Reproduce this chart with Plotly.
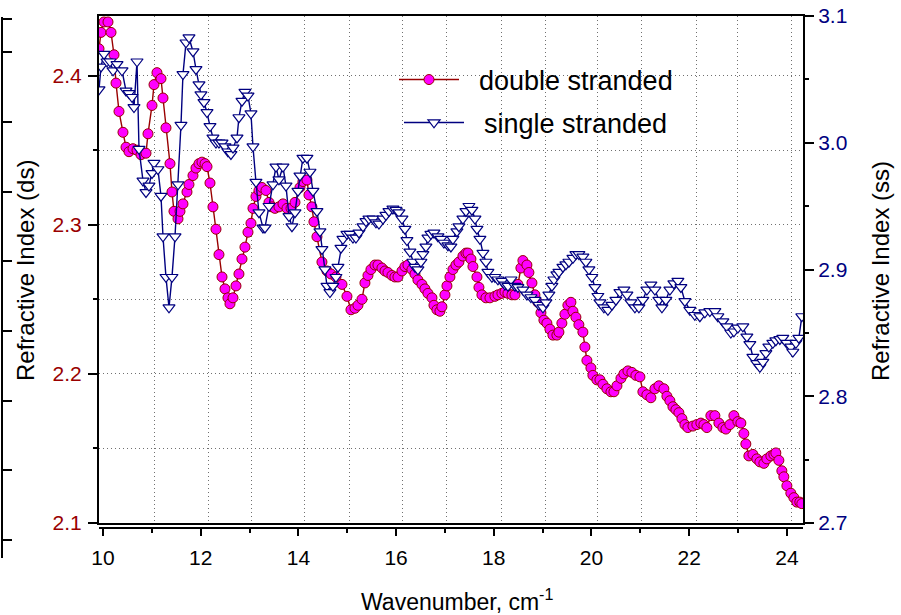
import plotly.graph_objects as go

# ---------------- data ----------------
ds_x = [9.918, 9.959, 10.020, 10.102, 10.164, 10.225, 10.266, 10.327, 10.409, 10.471,
        10.532, 10.614, 10.696, 10.778, 10.880, 10.921, 11.003, 11.044, 11.105, 11.187,
        11.228, 11.289, 11.371, 11.412, 11.453, 11.535, 11.576, 11.637, 11.719, 11.760,
        11.842, 11.903, 11.965, 12.026, 12.088, 12.129, 12.190, 12.251, 12.313, 12.374,
        12.436, 12.497, 12.558, 12.599, 12.661, 12.722, 12.783, 12.845, 12.906, 12.968,
        13.029, 13.070, 13.131, 13.193, 13.254, 13.336, 13.398, 13.459, 13.520, 13.602,
        13.684, 13.766, 13.848, 13.930, 14.032, 14.093, 14.175, 14.216, 14.277, 14.318,
        14.380, 14.482, 14.585, 14.667, 14.769, 14.892, 14.994, 15.076, 15.158, 15.219,
        15.301, 15.362, 15.424, 15.485, 15.567, 15.628, 15.710, 15.772, 15.833, 15.915,
        15.976, 16.038, 16.120, 16.181, 16.242, 16.324, 16.386, 16.447, 16.529, 16.590,
        16.652, 16.734, 16.775, 16.836, 16.897, 16.938, 17.000, 17.041, 17.102, 17.163,
        17.225, 17.286, 17.368, 17.430, 17.471, 17.532, 17.573, 17.655, 17.696, 17.757,
        17.839, 17.921, 18.023, 18.085, 18.166, 18.228, 18.289, 18.371, 18.433, 18.494,
        18.555, 18.596, 18.678, 18.719, 18.781, 18.842, 18.903, 18.965, 19.026, 19.087,
        19.149, 19.210, 19.292, 19.333, 19.394, 19.456, 19.517, 19.579, 19.620, 19.681,
        19.742, 19.824, 19.865, 19.906, 19.988, 20.029, 20.111, 20.173, 20.234, 20.316,
        20.398, 20.459, 20.521, 20.603, 20.664, 20.746, 20.827, 20.909, 20.991, 21.052,
        21.134, 21.216, 21.298, 21.380, 21.482, 21.544, 21.605, 21.667, 21.728, 21.789,
        21.851, 21.912, 21.973, 22.076, 22.157, 22.239, 22.301, 22.362, 22.444, 22.526,
        22.608, 22.690, 22.751, 22.833, 22.915, 22.997, 23.058, 23.119, 23.160, 23.222,
        23.304, 23.385, 23.447, 23.529, 23.590, 23.672, 23.733, 23.774, 23.836, 23.897,
        23.938, 24.000, 24.081, 24.143, 24.204, 24.265, 24.306]
ds_y = [2.418, 2.429, 2.436, 2.436, 2.429, 2.414, 2.395, 2.376, 2.362, 2.352,
        2.349, 2.351, 2.350, 2.347, 2.348, 2.361, 2.380, 2.394, 2.402, 2.398,
        2.385, 2.365, 2.341, 2.322, 2.309, 2.304, 2.309, 2.314, 2.322, 2.327,
        2.333, 2.338, 2.341, 2.342, 2.341, 2.339, 2.328, 2.312, 2.297, 2.280,
        2.265, 2.257, 2.251, 2.247, 2.251, 2.259, 2.267, 2.277, 2.285, 2.295,
        2.301, 2.311, 2.319, 2.323, 2.325, 2.323, 2.315, 2.312, 2.311, 2.312,
        2.314, 2.311, 2.311, 2.315, 2.325, 2.329, 2.330, 2.320, 2.312, 2.302,
        2.292, 2.275, 2.269, 2.267, 2.265, 2.260, 2.252, 2.243, 2.244, 2.246,
        2.250, 2.261, 2.266, 2.270, 2.273, 2.273, 2.271, 2.269, 2.268, 2.266,
        2.265, 2.265, 2.269, 2.272, 2.273, 2.270, 2.267, 2.263, 2.260, 2.257,
        2.254, 2.251, 2.246, 2.243, 2.242, 2.245, 2.253, 2.259, 2.265, 2.270,
        2.273, 2.275, 2.279, 2.281, 2.281, 2.277, 2.272, 2.265, 2.258, 2.253,
        2.251, 2.251, 2.252, 2.253, 2.254, 2.255, 2.254, 2.253, 2.253, 2.260,
        2.271, 2.276, 2.273, 2.268, 2.261, 2.253, 2.248, 2.241, 2.236, 2.234,
        2.230, 2.226, 2.226, 2.228, 2.234, 2.240, 2.246, 2.248, 2.242, 2.238,
        2.233, 2.228, 2.218, 2.209, 2.204, 2.199, 2.196, 2.196, 2.193, 2.190,
        2.188, 2.188, 2.192, 2.197, 2.200, 2.202, 2.201, 2.199, 2.198, 2.188,
        2.186, 2.184, 2.190, 2.192, 2.190, 2.185, 2.182, 2.178, 2.176, 2.174,
        2.170, 2.166, 2.164, 2.165, 2.166, 2.167, 2.166, 2.164, 2.172, 2.172,
        2.167, 2.164, 2.163, 2.166, 2.172, 2.168, 2.167, 2.160, 2.153, 2.145,
        2.146, 2.143, 2.141, 2.140, 2.143, 2.145, 2.146, 2.147, 2.142, 2.135,
        2.131, 2.125, 2.120, 2.117, 2.114, 2.114, 2.113]

ss_x = [9.918, 9.959, 10.020, 10.082, 10.143, 10.205, 10.287, 10.389, 10.471, 10.532,
        10.594, 10.634, 10.696, 10.737, 10.819, 10.880, 10.941, 11.003, 11.044, 11.125,
        11.187, 11.228, 11.289, 11.351, 11.412, 11.474, 11.535, 11.596, 11.637, 11.699,
        11.760, 11.842, 11.903, 11.965, 12.005, 12.067, 12.129, 12.190, 12.251, 12.313,
        12.374, 12.436, 12.497, 12.558, 12.619, 12.661, 12.743, 12.783, 12.845, 12.906,
        12.968, 13.029, 13.070, 13.131, 13.193, 13.275, 13.315, 13.398, 13.480, 13.541,
        13.602, 13.684, 13.746, 13.807, 13.868, 13.930, 13.991, 14.032, 14.093, 14.175,
        14.237, 14.298, 14.380, 14.441, 14.482, 14.543, 14.585, 14.646, 14.707, 14.769,
        14.810, 14.871, 14.912, 14.994, 15.055, 15.117, 15.178, 15.240, 15.322, 15.383,
        15.444, 15.526, 15.588, 15.649, 15.731, 15.792, 15.854, 15.935, 15.997, 16.058,
        16.120, 16.181, 16.222, 16.283, 16.345, 16.386, 16.447, 16.508, 16.549, 16.611,
        16.652, 16.713, 16.775, 16.857, 16.918, 16.979, 17.061, 17.122, 17.163, 17.245,
        17.286, 17.368, 17.430, 17.491, 17.552, 17.614, 17.655, 17.716, 17.778, 17.839,
        17.880, 17.962, 18.023, 18.085, 18.166, 18.228, 18.289, 18.351, 18.433, 18.494,
        18.596, 18.678, 18.760, 18.842, 18.924, 19.006, 19.067, 19.128, 19.190, 19.231,
        19.292, 19.333, 19.415, 19.476, 19.538, 19.620, 19.681, 19.742, 19.824, 19.885,
        19.947, 20.008, 20.070, 20.131, 20.173, 20.254, 20.336, 20.418, 20.500, 20.582,
        20.664, 20.725, 20.807, 20.889, 20.971, 21.052, 21.134, 21.216, 21.298, 21.380,
        21.442, 21.523, 21.605, 21.687, 21.769, 21.830, 21.912, 22.014, 22.116, 22.219,
        22.321, 22.423, 22.526, 22.587, 22.690, 22.771, 22.853, 22.915, 22.997, 23.099,
        23.181, 23.242, 23.304, 23.385, 23.447, 23.508, 23.570, 23.631, 23.713, 23.774,
        23.856, 23.917, 23.999, 24.081, 24.122, 24.184, 24.245, 24.306]
ss_y = [3.042, 3.060, 3.070, 3.064, 3.064, 3.057, 3.062, 3.057, 3.041, 3.039,
        3.036, 3.028, 3.064, 2.995, 2.970, 2.961, 2.966, 2.976, 2.984, 2.979,
        2.958, 2.926, 2.894, 2.870, 2.894, 2.926, 2.967, 3.014, 3.054, 3.079,
        3.083, 3.072, 3.058, 3.046, 3.038, 3.032, 3.024, 3.013, 3.004, 3.000,
        3.000, 3.000, 2.997, 2.993, 2.991, 2.996, 3.004, 3.020, 3.033, 3.040,
        3.037, 3.023, 2.997, 2.969, 2.945, 2.933, 2.933, 2.950, 2.967, 2.981,
        2.971, 2.981, 2.966, 2.942, 2.934, 2.945, 2.962, 2.974, 2.988, 2.988,
        2.977, 2.962, 2.946, 2.930, 2.916, 2.900, 2.887, 2.882, 2.887, 2.894,
        2.902, 2.917, 2.924, 2.928, 2.928, 2.925, 2.925, 2.929, 2.934, 2.938,
        2.940, 2.940, 2.937, 2.936, 2.940, 2.943, 2.946, 2.948, 2.947, 2.945,
        2.940, 2.932, 2.923, 2.914, 2.906, 2.902, 2.900, 2.906, 2.912, 2.918,
        2.925, 2.928, 2.929, 2.926, 2.924, 2.921, 2.919, 2.918, 2.924, 2.930,
        2.934, 2.940, 2.946, 2.950, 2.947, 2.940, 2.932, 2.924, 2.913, 2.906,
        2.898, 2.894, 2.894, 2.892, 2.891, 2.888, 2.887, 2.892, 2.887, 2.886,
        2.884, 2.880, 2.878, 2.876, 2.872, 2.870, 2.874, 2.880, 2.887, 2.892,
        2.896, 2.898, 2.902, 2.904, 2.906, 2.909, 2.912, 2.912, 2.910, 2.906,
        2.900, 2.894, 2.886, 2.879, 2.874, 2.870, 2.868, 2.872, 2.876, 2.882,
        2.884, 2.880, 2.874, 2.870, 2.870, 2.876, 2.884, 2.888, 2.884, 2.876,
        2.870, 2.876, 2.884, 2.889, 2.891, 2.886, 2.875, 2.868, 2.864, 2.863,
        2.866, 2.867, 2.867, 2.863, 2.859, 2.855, 2.850, 2.851, 2.854, 2.855,
        2.847, 2.841, 2.831, 2.826, 2.823, 2.827, 2.834, 2.839, 2.842, 2.844,
        2.845, 2.846, 2.842, 2.839, 2.835, 2.842, 2.846, 2.863]

x_range = [9.918, 24.33]
x_tick_vals = [10, 12, 14, 16, 18, 20, 22, 24]
x_grid_vals = [11.06, 12.15, 13.05, 14.13, 15.05, 16.14, 17.04, 18.15, 19.05,
               20.13, 21.03, 22.14, 22.98, 24.10]
ds_range = [2.1, 2.44]
ds_tick_vals = [2.1, 2.2, 2.3, 2.4]
ss_range = [2.7, 3.1]
ss_tick_vals = [2.7, 2.8, 2.9, 3.0, 3.1]

FONT = "Liberation Sans, Arial, sans-serif"
DS_LINE = "#990000"
DS_FILL = "#ff00ff"
SS_LINE = "#000080"
GRID = "#707070"
GRID_DASH = "1px,3px"

fig = go.Figure()

# grid / frame helper (empty)
fig.add_trace(go.Scatter(x=[None], y=[None], xaxis="x2", yaxis="y",
                         showlegend=False, hoverinfo="skip"))
# stray partial axis at far left (empty)
fig.add_trace(go.Scatter(x=[None], y=[None], xaxis="x", yaxis="y3",
                         showlegend=False, hoverinfo="skip"))

fig.add_trace(go.Scatter(
    x=ds_x, y=ds_y, mode="lines+markers",
    name="\u00a0\u00a0double stranded",
    xaxis="x", yaxis="y", legend="legend",
    line=dict(color=DS_LINE, width=1.4),
    marker=dict(symbol="circle", size=10, color=DS_FILL,
                line=dict(color=DS_LINE, width=1)),
))
fig.add_trace(go.Scatter(
    x=ss_x, y=ss_y, mode="lines+markers",
    name="\u00a0\u00a0single stranded",
    xaxis="x", yaxis="y2", legend="legend2",
    line=dict(color=SS_LINE, width=1.4),
    marker=dict(symbol="triangle-down", size=10.5, color="white",
                line=dict(color=SS_LINE, width=1.2)),
))

# paper geometry: l=0, r=98, t=16, b=57 -> paper 803 x 542 px
PW, PH, PB = 803.0, 542.0, 558.0
def px_x(p):
    return p / PW
def px_y(p):
    return (PB - p) / PH

fig.update_layout(
    width=901, height=615,
    margin=dict(l=0, r=98, t=16, b=57, pad=0, autoexpand=False),
    paper_bgcolor="white", plot_bgcolor="rgba(0,0,0,0)",
    font=dict(family=FONT, size=21, color="black"),
    xaxis=dict(
        domain=[px_x(99), 1.0], range=x_range, anchor="free", position=px_y(528),
        automargin=False,
        showline=True, linecolor="black", linewidth=2,
        tickmode="array", tickvals=x_tick_vals,
        ticks="outside", ticklen=7, tickwidth=1.5, tickcolor="black",
        ticklabelstandoff=4,
        minor=dict(tickmode="linear", tick0=9, dtick=1, ticks="outside",
                   ticklen=4, tickwidth=1.5, tickcolor="black", showgrid=False),
        tickfont=dict(size=21, color="black", family=FONT),
        showgrid=False, zeroline=False,
    ),
    xaxis2=dict(
        overlaying="x", anchor="y", side="bottom", range=x_range,
        automargin=False,
        showline=True, mirror=True, linecolor="black", linewidth=2,
        tickmode="array", tickvals=x_grid_vals, ticks="", showticklabels=False,
        showgrid=True, gridcolor=GRID, griddash=GRID_DASH, gridwidth=1,
        zeroline=False,
    ),
    yaxis=dict(
        domain=[px_y(523), 1.0], range=ds_range, anchor="x",
        automargin=False,
        showline=True, linecolor="black", linewidth=2,
        tickmode="array", tickvals=ds_tick_vals, tickformat=".1f",
        ticks="outside", ticklen=9, tickwidth=1.5, tickcolor="black",
        ticklabelstandoff=2,
        minor=dict(tickmode="linear", tick0=2.05, dtick=0.1, ticks="outside",
                   ticklen=4, tickwidth=1.5, tickcolor="black",
                   showgrid=True, gridcolor=GRID, griddash=GRID_DASH, gridwidth=1),
        tickfont=dict(size=21, color=DS_LINE, family=FONT),
        showgrid=True, gridcolor=GRID, griddash=GRID_DASH, gridwidth=1,
        zeroline=False,
    ),
    yaxis2=dict(
        overlaying="y", side="right", anchor="x", range=ss_range,
        automargin=False,
        showline=True, linecolor="black", linewidth=2,
        tickmode="array", tickvals=ss_tick_vals, tickformat=".1f",
        ticks="outside", ticklen=9, tickwidth=1.5, tickcolor="black",
        minor=dict(tickmode="linear", tick0=2.75, dtick=0.1, ticks="outside",
                   ticklen=4, tickwidth=1.5, tickcolor="black", showgrid=False),
        tickfont=dict(size=21, color=SS_LINE, family=FONT),
        showgrid=False, zeroline=False,
    ),
    yaxis3=dict(
        domain=[0.0, px_y(17)], range=[-0.258, 7.504], anchor="free",
        position=0.002, side="left", automargin=False,
        showline=True, linecolor="black", linewidth=2,
        tickmode="array", tickvals=[-0.25, 0, 1, 2, 3, 4, 5, 6, 7, 7.48],
        ticks="inside", ticklen=9, tickwidth=1.5, tickcolor="black",
        showticklabels=False, showgrid=False, zeroline=False,
    ),
    legend=dict(
        x=px_x(394), y=px_y(80), xanchor="left", yanchor="middle",
        bgcolor="rgba(0,0,0,0)", borderwidth=0, itemwidth=60,
        font=dict(size=27, color="black", family=FONT),
    ),
    legend2=dict(
        x=px_x(399), y=px_y(123), xanchor="left", yanchor="middle",
        bgcolor="rgba(0,0,0,0)", borderwidth=0, itemwidth=60,
        font=dict(size=27, color="black", family=FONT),
    ),
    shapes=[
        # white backing behind the legend texts (hides gridlines there)
        dict(type="rect", xref="paper", yref="paper", layer="between",
             x0=px_x(464), x1=px_x(682), y0=px_y(142), y1=px_y(60),
             fillcolor="white", line=dict(width=0)),
    ],
    annotations=[
        dict(text="Wavenumber, cm<sup>-1</sup>", xref="paper", yref="paper",
             x=px_x(457), y=px_y(600), xanchor="center", yanchor="middle",
             showarrow=False, font=dict(size=23, color="black", family=FONT)),
        dict(text="Refractive Index (ds)", xref="paper", yref="paper",
             x=px_x(25), y=px_y(271), xanchor="center", yanchor="middle",
             textangle=-90, showarrow=False,
             font=dict(size=24, color="black", family=FONT)),
        dict(text="Refractive Index (ss)", xref="paper", yref="paper",
             x=px_x(880), y=px_y(271), xanchor="center", yanchor="middle",
             textangle=-90, showarrow=False,
             font=dict(size=24, color="black", family=FONT)),
    ],
    showlegend=True,
)

fig.write_html("out.html")
